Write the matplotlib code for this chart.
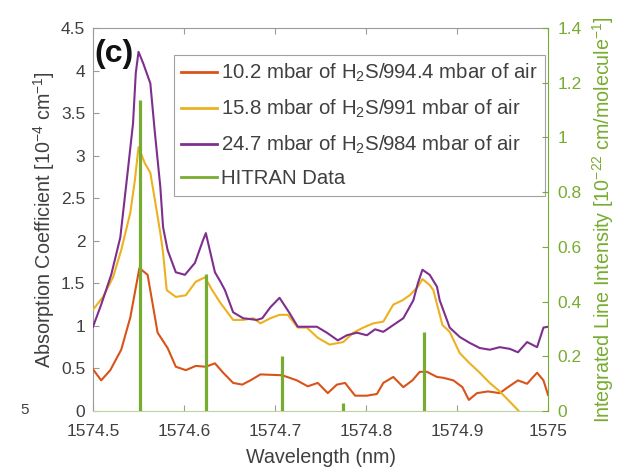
import matplotlib
matplotlib.use("Agg")
import matplotlib.pyplot as plt
from matplotlib.lines import Line2D
from matplotlib.ticker import FuncFormatter

plt.rcParams["font.family"] = ["Liberation Sans", "DejaVu Sans"]
plt.rcParams["mathtext.fontset"] = "custom"
plt.rcParams["mathtext.rm"] = "Liberation Sans"
plt.rcParams["mathtext.it"] = "Liberation Sans:italic"
plt.rcParams["mathtext.bf"] = "Liberation Sans:bold"

# Measured absorption spectra (wavelength in nm, coefficient in 1e-4 cm^-1)
wl_10 = [1574.500, 1574.509, 1574.519, 1574.531, 1574.541, 1574.551, 1574.560,
         1574.571, 1574.582, 1574.591, 1574.602, 1574.613, 1574.624, 1574.634,
         1574.643, 1574.654, 1574.664, 1574.673, 1574.684, 1574.708, 1574.724,
         1574.736, 1574.747, 1574.758, 1574.768, 1574.777, 1574.788, 1574.801,
         1574.812, 1574.819, 1574.830, 1574.841, 1574.851, 1574.859, 1574.867,
         1574.878, 1574.885, 1574.896, 1574.906, 1574.913, 1574.922, 1574.934,
         1574.947, 1574.956, 1574.967, 1574.977, 1574.988, 1574.995, 1575.000]
abs_10 = [0.49, 0.36, 0.48, 0.72, 1.10, 1.68, 1.60, 0.92, 0.74, 0.52, 0.48, 0.53,
          0.52, 0.56, 0.45, 0.33, 0.31, 0.36, 0.43, 0.42, 0.36, 0.29, 0.33, 0.21,
          0.31, 0.33, 0.18, 0.18, 0.20, 0.33, 0.40, 0.28, 0.36, 0.46, 0.46, 0.40,
          0.39, 0.36, 0.28, 0.13, 0.21, 0.23, 0.21, 0.28, 0.36, 0.32, 0.45, 0.36,
          0.19]

wl_15 = [1574.500, 1574.511, 1574.522, 1574.531, 1574.541, 1574.546, 1574.550,
         1574.557, 1574.563, 1574.568, 1574.574, 1574.577, 1574.581, 1574.591,
         1574.602, 1574.613, 1574.623, 1574.631, 1574.640, 1574.654, 1574.665,
         1574.676, 1574.684, 1574.695, 1574.705, 1574.714, 1574.725, 1574.735,
         1574.747, 1574.760, 1574.775, 1574.786, 1574.797, 1574.808, 1574.819,
         1574.830, 1574.840, 1574.848, 1574.857, 1574.862, 1574.870, 1574.874,
         1574.884, 1574.892, 1574.903, 1574.914, 1574.925, 1574.936, 1574.947,
         1574.958, 1574.967, 1574.980]
abs_15 = [1.19, 1.34, 1.57, 1.89, 2.33, 2.71, 3.10, 2.91, 2.80, 2.48, 2.09, 1.86,
          1.42, 1.34, 1.36, 1.52, 1.57, 1.42, 1.27, 1.07, 1.07, 1.09, 1.03, 1.09,
          1.13, 1.13, 0.98, 0.98, 0.86, 0.78, 0.81, 0.92, 0.98, 1.03, 1.05, 1.25,
          1.30, 1.36, 1.46, 1.55, 1.48, 1.42, 1.01, 0.93, 0.68, 0.56, 0.45, 0.33,
          0.23, 0.11, 0.01, -0.15]

wl_24 = [1574.500, 1574.509, 1574.520, 1574.530, 1574.538, 1574.544, 1574.547,
         1574.550, 1574.555, 1574.563, 1574.568, 1574.574, 1574.577, 1574.582,
         1574.591, 1574.601, 1574.612, 1574.621, 1574.624, 1574.634, 1574.640,
         1574.645, 1574.654, 1574.665, 1574.680, 1574.686, 1574.695, 1574.705,
         1574.716, 1574.725, 1574.746, 1574.757, 1574.769, 1574.779, 1574.790,
         1574.801, 1574.810, 1574.819, 1574.830, 1574.841, 1574.852, 1574.857,
         1574.862, 1574.870, 1574.878, 1574.881, 1574.892, 1574.903, 1574.914,
         1574.925, 1574.936, 1574.947, 1574.958, 1574.967, 1574.977, 1574.988,
         1574.995, 1575.000]
abs_24 = [0.99, 1.25, 1.60, 2.04, 2.80, 3.38, 3.97, 4.22, 4.09, 3.85, 3.27, 2.63,
          2.16, 1.89, 1.63, 1.60, 1.74, 2.01, 2.09, 1.63, 1.52, 1.42, 1.16, 1.09,
          1.07, 1.09, 1.22, 1.33, 1.15, 0.99, 0.99, 0.92, 0.83, 0.89, 0.92, 0.89,
          0.96, 0.93, 1.01, 1.09, 1.30, 1.50, 1.66, 1.60, 1.46, 1.30, 0.98, 0.87,
          0.80, 0.74, 0.72, 0.75, 0.73, 0.69, 0.81, 0.75, 0.98, 0.99]

# HITRAN line positions (nm) and integrated intensities (1e-22 cm/molecule)
hitran_wl = [1574.552, 1574.624, 1574.708, 1574.775, 1574.864]
hitran_int = [1.135, 0.50, 0.20, 0.03, 0.29]

labels = ["10.2 mbar of H$_2$S/994.4 mbar of air",
          "15.8 mbar of H$_2$S/991 mbar of air",
          "24.7 mbar of H$_2$S/984 mbar of air",
          "HITRAN Data"]

c_red = "#D95319"
c_yel = "#EDB120"
c_pur = "#7E2F8E"
c_grn = "#77AC30"
c_txt = "#404040"
c_axis = "#9a9a9a"

tick_fs = 12.5
label_fs = 14.2
legend_fs = 14.7

fig = plt.figure(figsize=(6.26, 4.67), dpi=100)
ax = fig.add_axes([93 / 626, 56 / 467, 455 / 626, 383 / 467])
ax2 = ax.twinx()

lw = 1.5
ax.plot(wl_10, abs_10, color=c_red, lw=lw, zorder=3)
ax.plot(wl_15, abs_15, color=c_yel, lw=lw, zorder=3)
ax.plot(wl_24, abs_24, color=c_pur, lw=lw, zorder=3)
ax2.vlines(hitran_wl, 0, hitran_int, color=c_grn, lw=2.3)

ax.set_xlim(1574.5, 1575.0)
ax.set_ylim(0, 4.5)
ax2.set_ylim(0, 1.4)
ax.set_xticks([1574.5, 1574.6, 1574.7, 1574.8, 1574.9, 1575.0])
ax.set_xticklabels(["1574.5", "1574.6", "1574.7", "1574.8", "1574.9", "1575"])
ax.set_yticks([i * 0.5 for i in range(10)])
ax2.set_yticks([i * 0.2 for i in range(8)])
fmt = FuncFormatter(lambda v, p: f"{v:g}")
ax.yaxis.set_major_formatter(fmt)
ax2.yaxis.set_major_formatter(fmt)

ax.tick_params(axis="x", direction="in", length=4, width=0.8, top=True,
               labelsize=tick_fs, colors=c_axis, labelcolor=c_txt, pad=9)
ax.tick_params(axis="y", direction="in", length=4, width=0.8,
               labelsize=tick_fs, colors=c_axis, labelcolor=c_txt, pad=5.5)
ax2.tick_params(axis="y", direction="in", length=4, width=0.8,
                labelsize=tick_fs, colors=c_grn, pad=7)

for s in ("left", "top"):
    ax.spines[s].set_color(c_axis)
ax.spines["bottom"].set_color("#b9d69c")
ax.spines["right"].set_visible(False)
for s in ("left", "top", "bottom"):
    ax2.spines[s].set_visible(False)
ax2.spines["right"].set_color(c_grn)

ax.set_xlabel("Wavelength (nm)", fontsize=label_fs, color=c_txt, labelpad=7)
ax.set_ylabel("Absorption Coefficient [10$^{-4}$ cm$^{-1}$]",
              fontsize=label_fs, color=c_txt, labelpad=3)
ax2.set_ylabel("Integrated Line Intensity [10$^{-22}$ cm/molecule$^{-1}$]",
               fontsize=label_fs, color=c_grn, labelpad=6)

ax.text(0.003, 0.97, "(c)", transform=ax.transAxes, fontsize=23,
        fontweight="bold", va="top", ha="left", color="#111111", zorder=5)

handles = [Line2D([], [], color=c_red, lw=2),
           Line2D([], [], color=c_yel, lw=2),
           Line2D([], [], color=c_pur, lw=2),
           Line2D([], [], color=c_grn, lw=2)]
leg = ax.legend(handles, labels, loc="upper right",
                bbox_to_anchor=(0.9934, 0.9295), borderaxespad=0,
                fontsize=legend_fs, frameon=True, fancybox=False,
                handlelength=1.75, handletextpad=0.2, labelspacing=0.66,
                borderpad=0.35, labelcolor=c_txt)
leg.get_frame().set_edgecolor("#8a8a8a")
leg.get_frame().set_linewidth(0.8)
leg.set_zorder(4)

fig.text(20 / 626, 1 - 410 / 467, "5", fontsize=11, color=c_txt,
         ha="left", va="center")

fig.savefig("out.png", dpi=100)
